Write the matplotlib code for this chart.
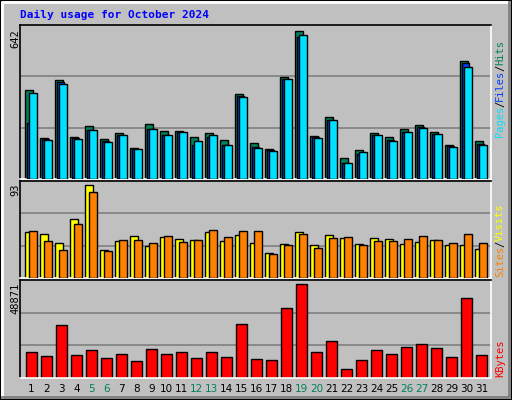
import matplotlib
matplotlib.use("Agg")
import matplotlib.pyplot as plt
from matplotlib.patches import Rectangle
from matplotlib.lines import Line2D

days = list(range(1, 32))
weekend = [5, 6, 12, 13, 19, 20, 26, 27]
hits = [388, 178, 428, 182, 230, 173, 200, 134, 239, 209, 209, 182, 200, 169, 370, 156, 130, 441, 642, 187, 270, 90, 125, 200, 182, 217, 235, 204, 147, 514, 165]
files = [245, 173, 419, 178, 213, 165, 191, 130, 217, 191, 204, 147, 182, 147, 362, 139, 125, 436, 616, 182, 257, 69, 108, 191, 169, 204, 226, 195, 143, 505, 152]
pages = [371, 169, 414, 173, 213, 160, 191, 130, 217, 191, 204, 165, 191, 147, 357, 134, 121, 436, 625, 178, 257, 69, 117, 191, 165, 204, 222, 195, 139, 488, 147]
visits = [46, 44, 35, 59, 93, 28, 37, 42, 32, 41, 39, 38, 46, 37, 43, 35, 25, 34, 46, 33, 43, 40, 34, 40, 39, 34, 36, 38, 33, 33, 29]
sites = [47, 37, 28, 54, 86, 27, 38, 38, 35, 42, 36, 38, 48, 41, 47, 47, 24, 33, 44, 30, 40, 41, 33, 37, 37, 39, 42, 38, 35, 44, 35]
kbytes = [13556, 11416, 27466, 11951, 14627, 10346, 12486, 8741, 15162, 12486, 13556, 10346, 13556, 10881, 28001, 9811, 9276, 36562, 48871, 13556, 19441, 4460, 9276, 14627, 12486, 16232, 17837, 15697, 10881, 41378, 11951]

W, H = 512, 400
BG = "#C0C0C0"
fig = plt.figure(figsize=(W / 100, H / 100), dpi=100, facecolor=BG)

def ax_px(x0, y0, x1, y1):
    return fig.add_axes([x0 / W, 1 - y1 / H, (x1 - x0) / W, (y1 - y0) / H])

# outer bevel frame
fig.patches.append(Rectangle((0, 0), 1, 1, transform=fig.transFigure, fill=False, ec="black", lw=1.5))
fig.lines.append(Line2D([2 / W, 2 / W, 1 - 3 / W], [3 / H, 1 - 2 / H, 1 - 2 / H], transform=fig.transFigure, color="white", lw=2))
fig.lines.append(Line2D([2 / W, 1 - 3 / W, 1 - 3 / W], [3 / H, 3 / H, 1 - 2 / H], transform=fig.transFigure, color="#808080", lw=2))

mono = "DejaVu Sans Mono"
fig.text(20 / W, 1 - 15 / H, "Daily usage for October 2024", color="#0000FF", fontsize=8, fontweight="bold", family=mono, va="center", ha="left")

XL = (0, 31.4)

def style(ax, top, label):
    ax.set_facecolor(BG)
    ax.set_xlim(*XL)
    ax.set_ylim(0, top)
    for g in (top / 3, 2 * top / 3):
        ax.axhline(g, color="#808080", lw=1.2, zorder=0)
    ax.set_xticks([]); ax.set_yticks([])
    ax.spines["top"].set_color("black"); ax.spines["left"].set_color("black")
    ax.spines["bottom"].set_color("white"); ax.spines["right"].set_color("white")
    for s in ax.spines.values():
        s.set_linewidth(1.2)

x0 = [d - 1 for d in days]

# top panel
ax1 = ax_px(20, 25, 491, 179)
top1 = 642 * 153 / 147
style(ax1, top1, "642")
ax1.bar([x + 0.35 for x in x0], hits, width=0.49, align="edge", color="#00805C", ec="black", lw=1, zorder=2)
ax1.bar([x + 0.44 for x in x0], files, width=0.49, align="edge", color="#0040FF", ec="black", lw=1, zorder=3)
ax1.bar([x + 0.62 for x in x0], pages, width=0.49, align="edge", color="#00E0FF", ec="black", lw=1, zorder=4)
ax1.set_ylim(0, top1)
fig.text(15 / W, 1 - 29 / H, "642", rotation=90, family=mono, fontsize=7.5, ha="center", va="top")

# middle panel
ax2 = ax_px(20, 181, 491, 278)
top2 = 93 * 96 / 92.5
style(ax2, top2, "93")
ax2.bar([x + 0.35 for x in x0], visits, width=0.49, align="edge", color="#FFFF00", ec="black", lw=1, zorder=2)
ax2.bar([x + 0.62 for x in x0], sites, width=0.49, align="edge", color="#FF8000", ec="black", lw=1, zorder=3)
fig.text(15 / W, 1 - 184 / H, "93", rotation=90, family=mono, fontsize=7.5, ha="center", va="top")

# bottom panel
ax3 = ax_px(20, 280, 491, 378)
top3 = 48871 * 95 / 91.3
style(ax3, top3, "48871")
ax3.bar([x + 0.42 for x in x0], kbytes, width=0.69, align="edge", color="#FF0000", ec="black", lw=1, zorder=2)
fig.text(15 / W, 1 - 283 / H, "48871", rotation=90, family=mono, fontsize=7.5, ha="center", va="top")

# day labels
for d in days:
    xp = 20 + (d - 1 + 0.77) / 31.4 * 471
    fig.text(xp / W, 1 - 389 / H, str(d), color="#00805C" if d in weekend else "black", fontsize=7.5, family="DejaVu Sans", ha="center", va="center")

# right legends (rotated, bottom-to-top)
def legend(parts, ybot):
    y = ybot
    for txt, col in parts:
        t = fig.text(500 / W, 1 - y / H, txt, rotation=90, color=col, family=mono, fontsize=7.5, ha="center", va="bottom")
        y -= len(txt) * 6.0 + 0
legend([("Pages", "#00E0FF"), ("/", "#000000"), ("Files", "#0040FF"), ("/", "#000000"), ("Hits", "#00805C")], 137)
legend([("Sites", "#FF8000"), ("/", "#000000"), ("Visits", "#FFFF00")], 277)
legend([("KBytes", "#FF0000")], 377)

fig.savefig("out.png", dpi=100, facecolor=BG)
